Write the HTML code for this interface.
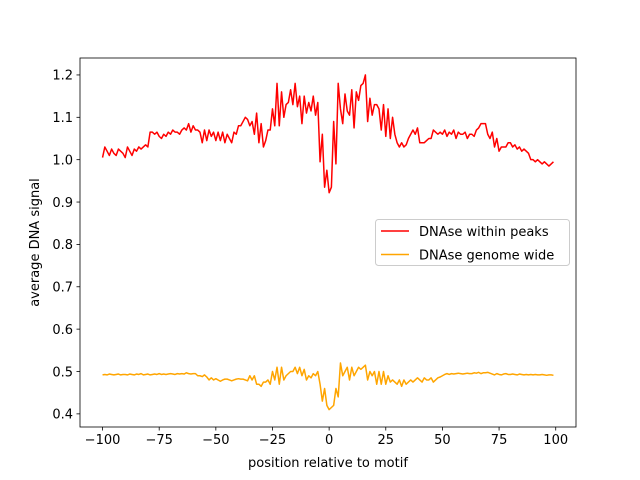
<!DOCTYPE html>
<html><head><meta charset="utf-8"><style>
body{margin:0;background:#fff;}
svg{display:block;font-family:"DejaVu Sans","Liberation Sans",sans-serif;}
</style></head><body>
<svg id="chart" width="640" height="480" viewBox="0 0 640 480" xmlns="http://www.w3.org/2000/svg">
<rect width="640" height="480" fill="#fff"/>
<g id="plot"></g>
</svg>
<script>
const xTicks=[-100,-75,-50,-25,0,25,50,75,100];
const yTicks=[0.4,0.5,0.6,0.7,0.8,0.9,1.0,1.1,1.2];
const seriesNames=["DNAse within peaks","DNAse genome wide"];
const peaks=[1.005,1.03,1.02,1.01,1.025,1.015,1.01,1.025,1.02,1.015,
1.005,1.03,1.02,1.01,1.025,1.02,1.03,1.025,1.03,1.035,
1.03,1.065,1.065,1.06,1.065,1.055,1.05,1.06,1.055,1.065,
1.06,1.07,1.065,1.065,1.06,1.07,1.075,1.07,1.085,1.065,
1.08,1.07,1.07,1.065,1.04,1.07,1.045,1.07,1.055,1.065,
1.045,1.065,1.045,1.065,1.04,1.06,1.05,1.04,1.065,1.06,
1.08,1.08,1.09,1.1,1.095,1.08,1.09,1.06,1.11,1.04,
1.085,1.03,1.045,1.07,1.07,1.12,1.08,1.18,1.08,1.16,
1.1,1.13,1.135,1.165,1.13,1.18,1.125,1.15,1.085,1.15,
1.11,1.135,1.115,1.15,1.105,1.135,0.995,1.06,0.935,0.975,
0.922,0.935,1.09,0.99,1.18,1.12,1.085,1.155,1.115,1.105,
1.165,1.075,1.16,1.14,1.175,1.18,1.2,1.09,1.145,1.105,
1.13,1.13,1.12,1.07,1.13,1.055,1.12,1.05,1.1,1.06,
1.04,1.03,1.04,1.03,1.035,1.05,1.06,1.07,1.06,1.075,
1.04,1.04,1.04,1.045,1.05,1.05,1.07,1.065,1.06,1.065,
1.06,1.07,1.055,1.065,1.06,1.07,1.05,1.065,1.06,1.06,
1.065,1.05,1.06,1.06,1.055,1.07,1.075,1.085,1.085,1.085,
1.06,1.05,1.065,1.03,1.05,1.02,1.03,1.03,1.03,1.04,
1.04,1.03,1.035,1.025,1.03,1.02,1.025,1.02,1.015,1.0,
1.0,0.995,1.0,0.995,0.99,0.995,0.99,0.985,0.99,0.995];
const genome=[0.492,0.493,0.492,0.494,0.493,0.492,0.493,0.494,0.492,0.493,
0.493,0.492,0.494,0.493,0.492,0.494,0.493,0.495,0.492,0.493,
0.494,0.492,0.493,0.494,0.493,0.495,0.493,0.494,0.493,0.494,
0.495,0.494,0.493,0.495,0.494,0.495,0.494,0.497,0.495,0.494,
0.495,0.495,0.49,0.49,0.488,0.492,0.487,0.48,0.485,0.48,
0.483,0.48,0.477,0.48,0.482,0.482,0.48,0.478,0.48,0.482,
0.483,0.482,0.482,0.48,0.478,0.49,0.48,0.49,0.47,0.47,
0.465,0.475,0.475,0.48,0.47,0.5,0.48,0.51,0.47,0.51,
0.48,0.49,0.495,0.5,0.5,0.51,0.495,0.51,0.49,0.505,
0.48,0.49,0.485,0.495,0.49,0.5,0.47,0.43,0.46,0.42,
0.41,0.415,0.42,0.46,0.44,0.52,0.49,0.5,0.51,0.48,
0.51,0.49,0.5,0.51,0.505,0.51,0.515,0.48,0.5,0.49,
0.5,0.47,0.5,0.47,0.5,0.47,0.49,0.475,0.48,0.475,
0.47,0.48,0.465,0.48,0.47,0.475,0.48,0.475,0.48,0.485,
0.48,0.475,0.485,0.48,0.48,0.485,0.475,0.48,0.485,0.487,
0.49,0.493,0.495,0.493,0.495,0.494,0.495,0.496,0.495,0.494,
0.495,0.496,0.495,0.495,0.497,0.496,0.498,0.495,0.497,0.497,
0.498,0.496,0.494,0.492,0.495,0.493,0.492,0.494,0.495,0.493,
0.493,0.494,0.493,0.492,0.494,0.493,0.492,0.493,0.492,0.493,
0.492,0.493,0.492,0.492,0.493,0.492,0.491,0.492,0.492,0.491];
const positions=[];for(let i=0;i<peaks.length;i++)positions.push(i-100);

const L=80,R=576,T=58,B=427;
const xmin=-109.95,xmax=108.95,ymin=0.369,ymax=1.240;
const X=v=>L+(v-xmin)/(xmax-xmin)*(R-L);
const Y=v=>B-(v-ymin)/(ymax-ymin)*(B-T);
const NS="http://www.w3.org/2000/svg";
const g=document.getElementById('plot');
function mk(tag,attrs,parent){const e=document.createElementNS(NS,tag);for(const k in attrs)e.setAttribute(k,attrs[k]);(parent||g).appendChild(e);return e;}

function drawLine(vals,color,name){
  const d=vals.map((v,i)=>(i?'L':'M')+X(positions[i]).toFixed(2)+','+Y(v).toFixed(2)).join(' ');
  const p=mk('path',{d:d,fill:'none',stroke:color,'stroke-width':1.5,'stroke-linejoin':'round'});
  
  
}
drawLine(peaks,'#ff0000','series-within-peaks');
drawLine(genome,'#ffa500','series-genome-wide');

const frame=mk('rect',{x:L,y:T,width:R-L,height:B-T,fill:'none',stroke:'#000','stroke-width':0.8});



xTicks.forEach(t=>{
  const x=X(t);
  mk('line',{x1:x,y1:B,x2:x,y2:B+3.5,stroke:'#000','stroke-width':0.8});
  const tx=mk('text',{x:x,y:B+17,'text-anchor':'middle','font-size':'13px',fill:'#000'});
  tx.textContent=(t<0?'\u2212'+(-t):t);
  
  
});
yTicks.forEach(t=>{
  const y=Y(t);
  mk('line',{x1:L,y1:y,x2:L-3.5,y2:y,stroke:'#000','stroke-width':0.8});
  const tx=mk('text',{x:L-7,y:y+4.8,'text-anchor':'end','font-size':'13px',fill:'#000'});
  tx.textContent=t.toFixed(1);
  
  
});
const xt=mk('text',{x:(L+R)/2,y:467,'text-anchor':'middle','font-size':'13px'});
xt.textContent='position relative to motif';


const yt=mk('text',{x:0,y:0,'text-anchor':'middle','font-size':'13px',transform:'translate(39,'+((T+B)/2)+') rotate(-90)'});
yt.textContent='average DNA signal';



const lg=mk('g',{});


mk('rect',{x:375.5,y:219.5,width:194,height:46,rx:3,fill:'#fff','fill-opacity':0.8,stroke:'#ccc','stroke-width':1},lg);
const colors=['#ff0000','#ffa500'];
seriesNames.forEach((n,i)=>{
  const y=231+i*23.5;
  const e=mk('g',{},lg);
  
  
  mk('line',{x1:381,y1:y,x2:409,y2:y,stroke:colors[i],'stroke-width':1.5},e);
  const t=mk('text',{x:419,y:y+4.8,'font-size':'13px'},e);
  t.textContent=n;
});
</script>
</body></html>
